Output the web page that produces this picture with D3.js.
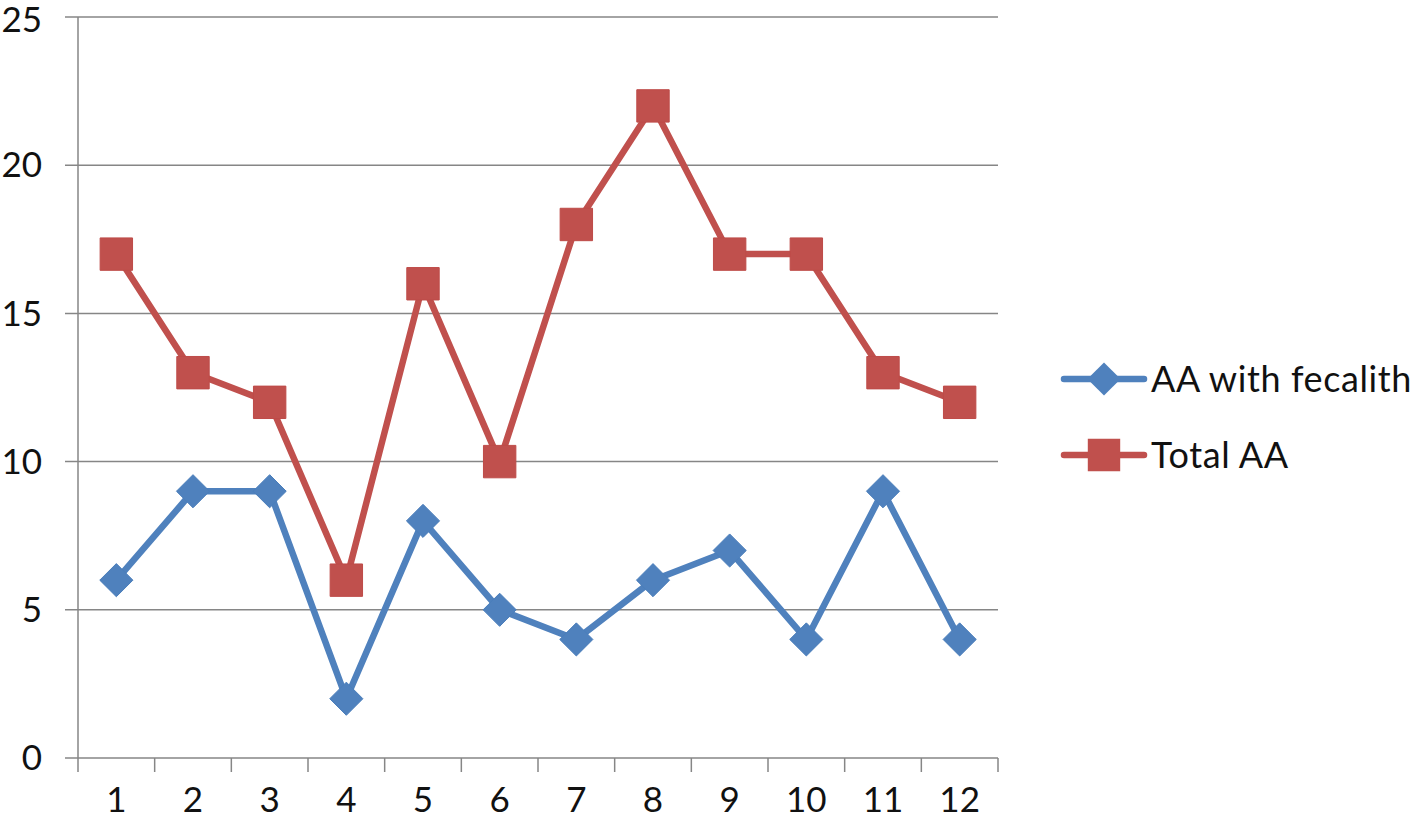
<!DOCTYPE html>
<html>
<head>
<meta charset="utf-8">
<script src="https://cdn.jsdelivr.net/npm/d3@7"></script>
<style>
  body { margin: 0; background: #fff; }
  text { font-family: Lato, "Open Sans", sans-serif; fill: #111; }
</style>
</head>
<body>
<div id="chart"></div>
<script>
const categories = ["1", "2", "3", "4", "5", "6", "7", "8", "9", "10", "11", "12"];
const fecalith = [6, 9, 9, 2, 8, 5, 4, 6, 7, 4, 9, 4];
const totalAA = [17, 13, 12, 6, 16, 10, 18, 22, 17, 17, 13, 12];
const yTicks = [0, 5, 10, 15, 20, 25];
const seriesNames = ["AA with fecalith", "Total AA"];

const width = 1418, height = 827;
const margin = {top: 17, right: 420, bottom: 69, left: 78};
const fontSize = 35;

const svg = d3.select("#chart").append("svg")
    .attr("width", width)
    .attr("height", height);

const x = d3.scaleBand()
    .domain(categories)
    .range([margin.left, width - margin.right]);

const y = d3.scaleLinear()
    .domain([0, 25])
    .range([height - margin.bottom, margin.top]);

// gridlines
svg.append("g")
    .selectAll("line")
    .data(yTicks)
    .join("line")
      .attr("x1", margin.left - 13)
      .attr("x2", width - margin.right)
      .attr("y1", d => y(d))
      .attr("y2", d => y(d))
      .attr("stroke", "#868686")
      .attr("stroke-width", 1.5);

// y axis labels
svg.append("g")
    .selectAll("text")
    .data(yTicks)
    .join("text")
      .attr("x", 42)
      .attr("y", d => y(d))
      .attr("dy", d => d === 25 ? "0.42em" : "0.35em")
      .attr("text-anchor", "end")
      .attr("font-size", fontSize)
      .text(d => d);

// y axis line
svg.append("line")
    .attr("x1", margin.left).attr("x2", margin.left)
    .attr("y1", y(25)).attr("y2", y(0))
    .attr("stroke", "#868686").attr("stroke-width", 1.5);

// x axis
const xAxis = svg.append("g")
    .attr("transform", `translate(0, ${y(0)})`)
    .call(d3.axisBottom(x).tickSize(0).tickPadding(29));
xAxis.select(".domain").remove();
xAxis.selectAll("text")
    .attr("font-size", fontSize)
    .attr("fill", "#111")
    .attr("font-family", "Lato, 'Open Sans', sans-serif");

// category boundary ticks
const bounds = categories.map(c => x(c)).concat([x(categories[categories.length - 1]) + x.bandwidth()]);
svg.append("g")
    .selectAll("line")
    .data(bounds)
    .join("line")
      .attr("x1", d => d).attr("x2", d => d)
      .attr("y1", y(0)).attr("y2", y(0) + 14)
      .attr("stroke", "#868686").attr("stroke-width", 1.5);

const cx = (d, i) => x(categories[i]) + x.bandwidth() / 2;

const line = d3.line()
    .x(cx)
    .y(d => y(d));

const blue = "#4F81BD", red = "#C0504D";

// series lines
svg.append("path").datum(fecalith)
    .attr("d", line).attr("fill", "none")
    .attr("stroke", blue).attr("stroke-width", 6.5).attr("stroke-linejoin", "round");
svg.append("path").datum(totalAA)
    .attr("d", line).attr("fill", "none")
    .attr("stroke", red).attr("stroke-width", 6.5).attr("stroke-linejoin", "round");

// markers
const diamond = d3.symbol().type(d3.symbolDiamond2).size(700);
const square = d3.symbol().type(d3.symbolSquare).size(1050);

svg.append("g")
    .selectAll("path")
    .data(fecalith)
    .join("path")
      .attr("transform", (d, i) => `translate(${cx(d, i)}, ${y(d)})`)
      .attr("d", diamond)
      .attr("fill", blue)
      .attr("stroke", "#4A7EBB").attr("stroke-width", 1);

svg.append("g")
    .selectAll("path")
    .data(totalAA)
    .join("path")
      .attr("transform", (d, i) => `translate(${cx(d, i)}, ${y(d)})`)
      .attr("d", square)
      .attr("fill", red)
      .attr("stroke", "#BE4B48").attr("stroke-width", 1);

// legend
const legend = svg.append("g");
const legendItems = [
  {name: seriesNames[0], color: blue, symbol: diamond, y: 379},
  {name: seriesNames[1], color: red, symbol: square, y: 455}
];
legendItems.forEach(item => {
  legend.append("line")
      .attr("x1", 1064).attr("x2", 1144)
      .attr("y1", item.y).attr("y2", item.y)
      .attr("stroke", item.color).attr("stroke-width", 6.5)
      .attr("stroke-linecap", "round");
  legend.append("path")
      .attr("transform", `translate(1104, ${item.y})`)
      .attr("d", item.symbol)
      .attr("fill", item.color);
  legend.append("text")
      .attr("x", 1151)
      .attr("y", item.y)
      .attr("dy", "0.35em")
      .attr("font-size", 36)
      .attr("letter-spacing", 0.6)
      .text(item.name);
});
</script>
</body>
</html>
